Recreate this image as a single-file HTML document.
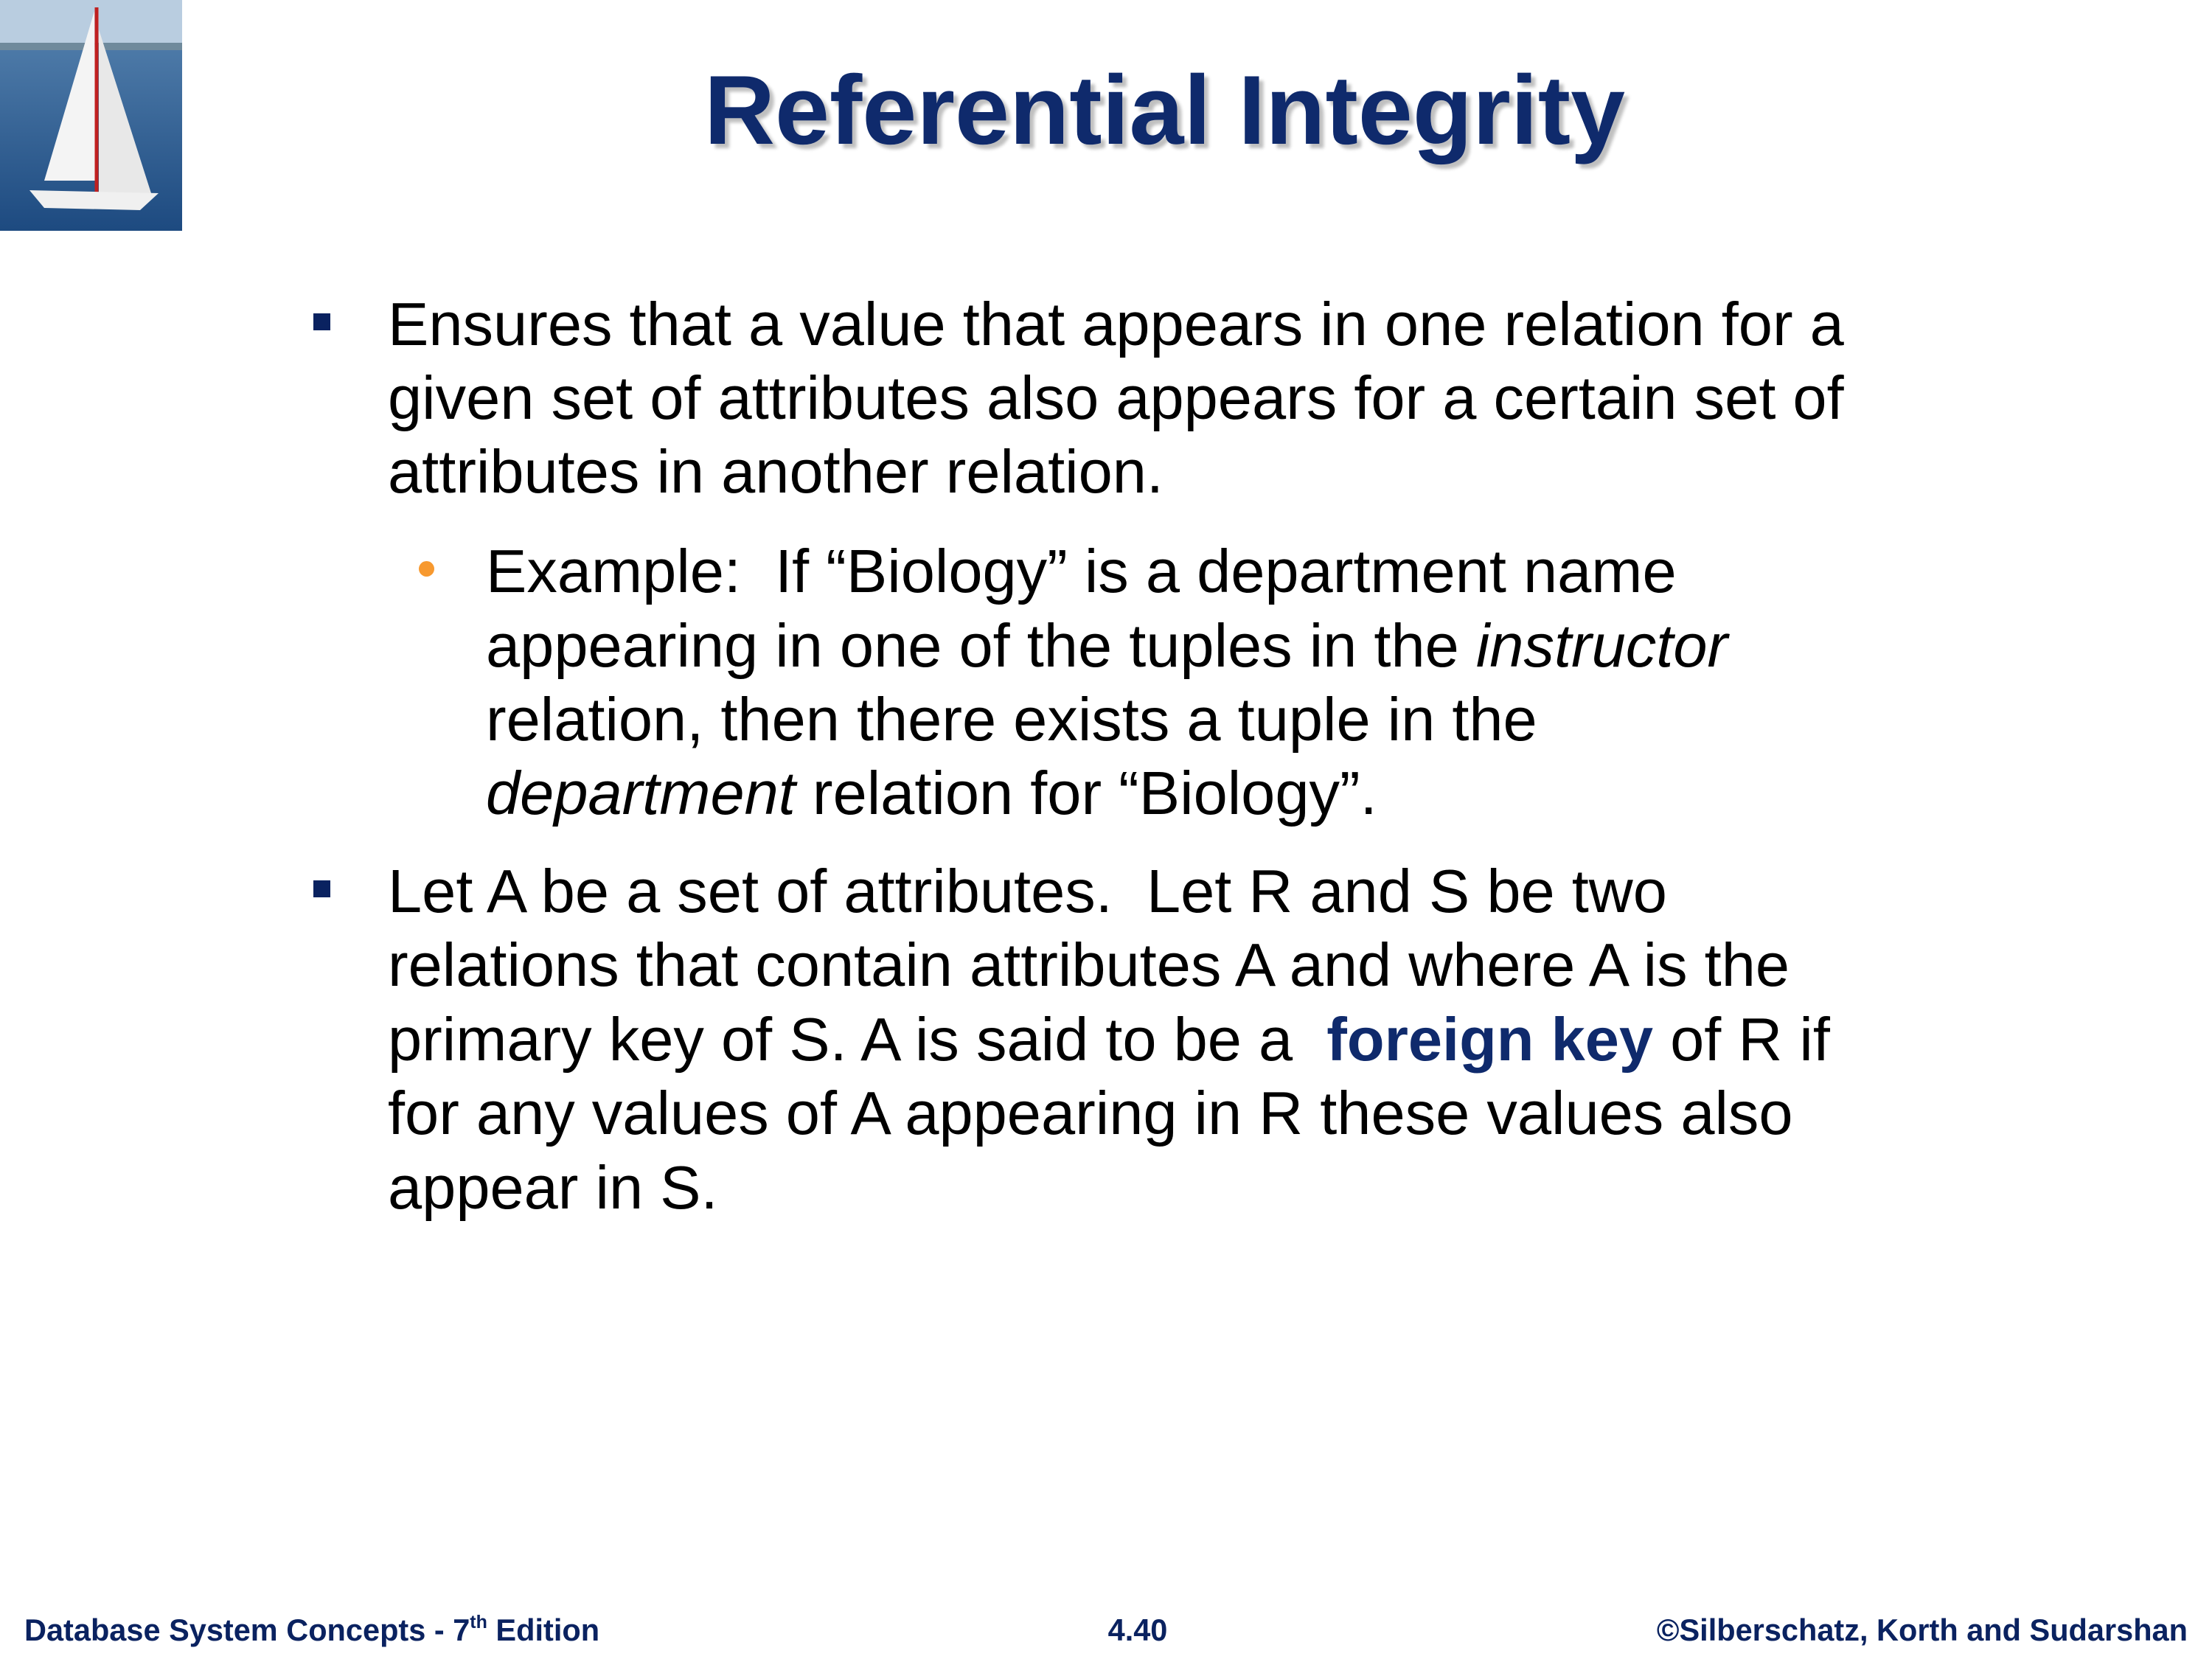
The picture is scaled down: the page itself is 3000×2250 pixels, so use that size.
<!DOCTYPE html>
<html><head><meta charset="utf-8"><style>
html,body{margin:0;padding:0;background:#fff;}
body{width:3000px;height:2250px;position:relative;overflow:hidden;font-family:"Liberation Sans",Arial,sans-serif;}
.l{position:absolute;white-space:nowrap;line-height:1;}
.b{font-size:83px;color:#000;}
.t{font-size:133px;font-weight:bold;color:#0f2a6c;text-shadow:6px 6px 4px rgba(0,0,0,0.25);}
.f{font-size:41.5px;font-weight:bold;color:#0a2260;}
.sq{position:absolute;width:23px;height:23px;background:#0a2260;}
.dot{position:absolute;width:21px;height:21px;border-radius:50%;background:#f7992f;}
.fk{font-weight:bold;color:#0f2a6c;}
</style></head><body>
<svg style="position:absolute;left:0;top:0" width="247" height="313" viewBox="0 0 247 313">
<defs><linearGradient id="sea" x1="0" y1="0" x2="0" y2="1"><stop offset="0" stop-color="#7fa3c8"/><stop offset="0.2" stop-color="#4d7aa8"/><stop offset="1" stop-color="#1d4a80"/></linearGradient></defs>
<rect width="247" height="313" fill="url(#sea)"/>
<rect width="247" height="62" fill="#b9cde0"/>
<rect y="58" width="247" height="10" fill="#6f8a9c"/>
<polygon points="128,15 130,245 60,245" fill="#f4f4f4"/>
<polygon points="134,40 205,262 134,262" fill="#e8e8e8"/>
<line x1="131" y1="10" x2="131" y2="262" stroke="#c02020" stroke-width="5"/>
<polygon points="40,258 215,262 190,285 60,282" fill="#f0f0f0"/>
</svg>
<div class="l t" style="left:955px;top:84px;">Referential Integrity</div>

<div class="sq" style="left:425px;top:425px;"></div>
<div class="l b" style="left:526px;top:398px;">Ensures that a value that appears in one relation for a</div>
<div class="l b" style="left:526px;top:498px;">given set of attributes also appears for a certain set of</div>
<div class="l b" style="left:526px;top:598px;">attributes in another relation.</div>

<div class="dot" style="left:568px;top:761px;"></div>
<div class="l b" style="left:659px;top:733px;">Example:&nbsp; If “Biology” is a department name</div>
<div class="l b" style="left:659px;top:834px;">appearing in one of the tuples in the <i>instructor</i></div>
<div class="l b" style="left:659px;top:934px;">relation, then there exists a tuple in the</div>
<div class="l b" style="left:659px;top:1034px;"><i>department</i> relation for “Biology”.</div>

<div class="sq" style="left:425px;top:1194px;"></div>
<div class="l b" style="left:526px;top:1167px;">Let A be a set of attributes.&nbsp; Let R and S be two</div>
<div class="l b" style="left:526px;top:1267px;">relations that contain attributes A and where A is the</div>
<div class="l b" style="left:526px;top:1368px;">primary key of S. A is said to be a&nbsp; <span class="fk">foreign key</span> of R if</div>
<div class="l b" style="left:526px;top:1468px;">for any values of A appearing in R these values also</div>
<div class="l b" style="left:526px;top:1569px;">appear in S.</div>

<div class="l f" style="left:33px;top:2190px;">Database System Concepts - 7<sup style="font-size:25px;vertical-align:17px;line-height:0">th</sup> Edition</div>
<div class="l f" style="left:1543px;top:2190px;transform:translateX(-50%);">4.40</div>
<div class="l f" style="right:33px;top:2190px;">©Silberschatz, Korth and Sudarshan</div>
</body></html>
